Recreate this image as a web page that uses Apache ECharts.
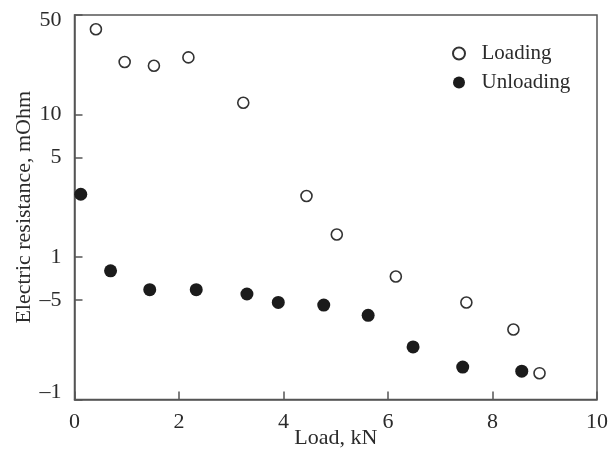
<!DOCTYPE html>
<html>
<head>
<meta charset="utf-8">
<script src="https://cdn.jsdelivr.net/npm/echarts@6/dist/echarts.min.js"></script>
<style>
html,body{margin:0;padding:0;background:#fff;}
#c{width:611px;height:459px;}
</style>
</head>
<body>
<div id="c"></div>
<script>
// Data
const loadingX = [0.41, 0.96, 1.52, 2.18, 3.23, 4.44, 5.02, 6.15, 7.50, 8.40, 8.90];
const loadingY = [39.7, 23.4, 22.0, 25.2, 12.1, 2.68, 1.44, 0.73, 0.48, 0.31, 0.153];
const unloadingX = [0.12, 0.69, 1.44, 2.33, 3.30, 3.90, 4.77, 5.62, 6.48, 7.43, 8.56];
const unloadingY = [2.76, 0.80, 0.59, 0.59, 0.55, 0.48, 0.46, 0.39, 0.234, 0.169, 0.158];
const yTickValues = [50, 10, 5, 1, 0.5, 0.1];
const yTickLabels = ['50', '10', '5', '1', '\u20135', '\u20131'];
const yMin = 0.1, yMax = 50;
const seriesNames = ['Loading', 'Unloading'];

const FONT = 'Liberation Serif';
const TXT = '#2b2b2b';
const AX = '#555';

function yLabel(v) {
  for (let i = 0; i < yTickValues.length; i++) {
    if (Math.abs(v - yTickValues[i]) < 1e-6 * Math.max(1, yTickValues[i])) {
      const style = i === 0 ? 't' : (i === yTickValues.length - 1 ? 'b' : 'n');
      return '{' + style + '|' + yTickLabels[i] + '}';
    }
  }
  return '';
}
const labelFont = {fontFamily: FONT, fontSize: 22, color: TXT};
const lineStyle = {color: AX, width: 1.5};
const tickStyle = {show: true, inside: true, length: 8, lineStyle: lineStyle};

const chart = echarts.init(document.getElementById('c'), null, {renderer: 'canvas'});
chart.setOption({
  animation: false,
  backgroundColor: '#fff',
  grid: {left: 74.5, right: 7.5, top: 15, bottom: 59.5, show: true, borderColor: AX, borderWidth: 1.5, backgroundColor: 'transparent', containLabel: false},
  legend: {
    orient: 'vertical', left: 447, top: 38,
    itemWidth: 35, itemHeight: 12, itemGap: 8,
    textStyle: {fontFamily: FONT, fontSize: 21, color: TXT, lineHeight: 21},
    data: seriesNames
  },
  xAxis: {
    type: 'value', min: 0, max: 10, interval: 2,
    name: 'Load, kN', nameLocation: 'middle', nameGap: 28, nameMoveOverlap: false,
    nameTextStyle: labelFont,
    axisLine: {show: true, onZero: false, lineStyle: lineStyle},
    axisTick: tickStyle,
    axisLabel: Object.assign({margin: 12}, labelFont),
    splitLine: {show: false}
  },
  yAxis: [
    {
      // labels + axis line
      type: 'log', logBase: 10, min: yMin, max: yMax, position: 'left',
      name: 'Electric resistance, mOhm', nameLocation: 'middle', nameGap: 39, nameMoveOverlap: false,
      nameTextStyle: labelFont,
      axisLine: {show: true, lineStyle: lineStyle},
      axisTick: {show: false},
      axisLabel: Object.assign({margin: 13, customValues: yTickValues, formatter: yLabel,
        rich: {
          t: Object.assign({padding: [11, 0, 0, 0]}, labelFont),
          b: Object.assign({padding: [0, 0, 15, 0]}, labelFont),
          n: Object.assign({}, labelFont)
        }}, labelFont),
      splitLine: {show: false},
      minorTick: {show: false}
    },
    {
      // same log scale, carries the tick marks
      type: 'log', logBase: 10, min: yMin, max: yMax, position: 'left', offset: 0,
      axisLine: {show: false},
      axisTick: Object.assign({customValues: yTickValues}, tickStyle),
      axisLabel: {show: false},
      splitLine: {show: false},
      minorTick: {show: false}
    }
  ],
  series: [
    {
      name: seriesNames[0], type: 'scatter', symbol: 'circle', symbolSize: 11, yAxisIndex: 0,
      itemStyle: {color: '#fff', borderColor: '#333', borderWidth: 1.6, opacity: 1},
      data: loadingX.map((x, i) => [x, loadingY[i]]), z: 3
    },
    {
      name: seriesNames[1], type: 'scatter', symbol: 'circle', symbolSize: 13, yAxisIndex: 1,
      itemStyle: {color: '#1b1b1b', borderWidth: 0, opacity: 1},
      data: unloadingX.map((x, i) => [x, unloadingY[i]]), z: 2
    }
  ]
});
</script>
</body>
</html>
